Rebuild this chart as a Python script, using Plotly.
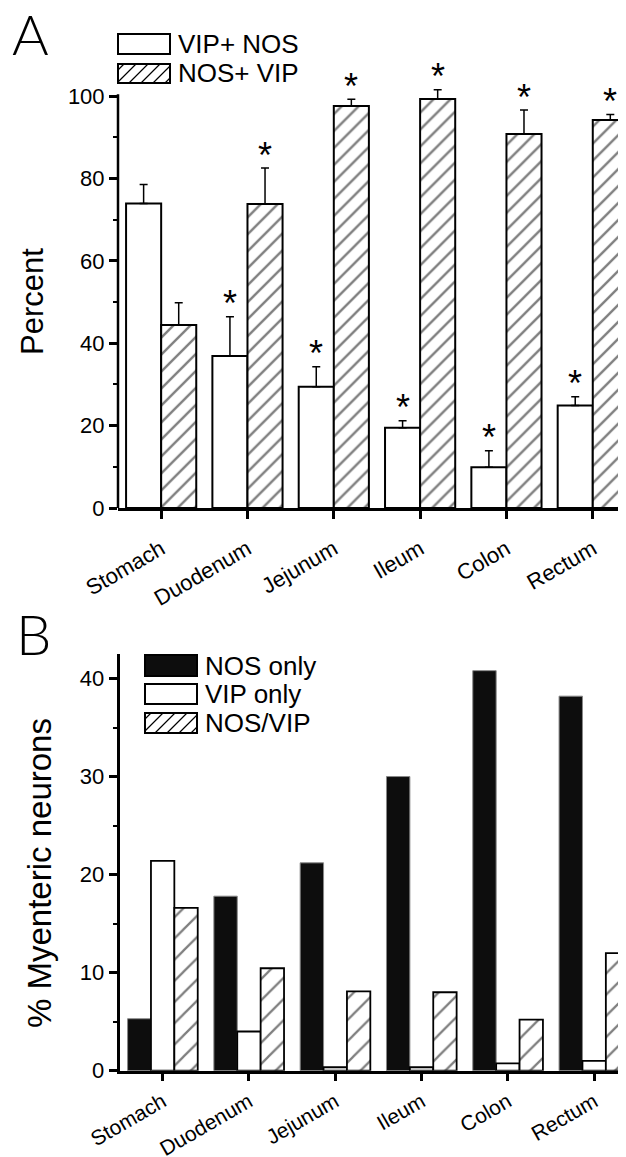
import plotly.graph_objects as go

# The page body has an 8px margin, so the figure is drawn 8px in from the window edge.
OFF = 8
W, H = 626 - OFF, 1157 - OFF

regions = ["Stomach", "Duodenum", "Jejunum", "Ileum", "Colon", "Rectum"]

# Panel A: percent co-expression (mean, upper error)
vip_nos = [73.9, 36.9, 29.4, 19.5, 9.9, 24.9]
vip_nos_err = [4.6, 9.5, 4.9, 1.7, 4.0, 2.1]
nos_vip = [44.4, 73.8, 97.6, 99.3, 90.8, 94.2]
nos_vip_err = [5.4, 8.7, 1.6, 2.2, 5.8, 1.3]
vip_nos_sig = [False, True, True, True, True, True]
nos_vip_sig = [False, True, True, True, True, True]

# Panel B: % myenteric neurons
nos_only = [5.3, 17.8, 21.2, 30.0, 40.8, 38.2]
vip_only = [21.4, 4.0, 0.35, 0.35, 0.75, 1.0]
nos_and_vip = [16.6, 10.45, 8.1, 8.0, 5.2, 12.0]

a_ticks = [0, 20, 40, 60, 80, 100]
a_minor = [10, 30, 50, 70, 90]
b_ticks = [0, 10, 20, 30, 40]
b_minor = [5, 15, 25, 35]

FONT = "Liberation Sans, Arial, sans-serif"


def px(x):
    return (x - OFF) / W


def py(y):
    return 1 - (y - OFF) / H


fig = go.Figure()

no_minus = [0] * len(regions)
fig.add_trace(go.Bar(
    x=regions, y=vip_nos, name="VIP+ NOS", xaxis="x", yaxis="y",
    marker=dict(color="white", line=dict(color="black", width=2)),
    error_y=dict(type="data", array=vip_nos_err, arrayminus=no_minus, symmetric=False,
                 color="black", thickness=1.5, width=4),
    showlegend=False))
fig.add_trace(go.Bar(
    x=regions, y=nos_vip, name="NOS+ VIP", xaxis="x", yaxis="y",
    marker=dict(color="white", line=dict(color="black", width=2),
                pattern=dict(shape="/", fgcolor="black", bgcolor="white", size=12, solidity=0.2)),
    error_y=dict(type="data", array=nos_vip_err, arrayminus=no_minus, symmetric=False,
                 color="black", thickness=1.5, width=4),
    showlegend=False))

fig.add_trace(go.Bar(
    x=regions, y=nos_only, name="NOS only", xaxis="x2", yaxis="y2",
    marker=dict(color="#0d0d0d", line=dict(color="#888888", width=1)), showlegend=False))
fig.add_trace(go.Bar(
    x=regions, y=vip_only, name="VIP only", xaxis="x2", yaxis="y2",
    marker=dict(color="white", line=dict(color="black", width=1.8)), showlegend=False))
fig.add_trace(go.Bar(
    x=regions, y=nos_and_vip, name="NOS/VIP", xaxis="x2", yaxis="y2",
    marker=dict(color="white", line=dict(color="black", width=1.8),
                pattern=dict(shape="/", fgcolor="black", bgcolor="white", size=15, solidity=0.15)),
    showlegend=False))

bargap = 0.187
half = (1 - bargap) / 4  # center offset of each of two grouped bars

annotations = []
star_font = dict(size=36, family=FONT, color="black")
for i, s in enumerate(vip_nos_sig):
    if s:
        annotations.append(dict(x=i - half, y=vip_nos[i] + vip_nos_err[i], xref="x", yref="y",
                                text="*", showarrow=False, xanchor="center", yanchor="middle",
                                yshift=13, font=star_font))
for i, s in enumerate(nos_vip_sig):
    if s:
        annotations.append(dict(x=i + half, y=nos_vip[i] + nos_vip_err[i], xref="x", yref="y",
                                text="*", showarrow=False, xanchor="center", yanchor="middle",
                                yshift=13, font=star_font))

# panel letters and axis titles
annotations += [
    dict(x=px(30), y=py(33), xref="paper", yref="paper", text="A", showarrow=False,
         xanchor="center", yanchor="middle", height=48, valign="middle",
         font=dict(size=56, family="Lato, " + FONT, color="black", weight=300)),
    dict(x=px(33), y=py(633), xref="paper", yref="paper", text="B", showarrow=False,
         xanchor="center", yanchor="middle", height=48, valign="middle",
         font=dict(size=56, family="Lato, " + FONT, color="black", weight=300)),
    dict(x=px(32), y=py(301), xref="paper", yref="paper", text="Percent", textangle=-90,
         xanchor="center", yanchor="middle",
         showarrow=False, font=dict(size=31, family=FONT, color="black")),
    dict(x=px(40), y=py(873), xref="paper", yref="paper", text="% Myenteric neurons",
         textangle=-90, xanchor="center", yanchor="middle",
         showarrow=False, font=dict(size=33, family=FONT, color="black")),
]

shapes = []


def box(x0, y0, x1, y1, fill):
    shapes.append(dict(type="rect", xref="paper", yref="paper", x0=px(x0), x1=px(x1),
                       y0=py(y1), y1=py(y0), fillcolor=fill,
                       line=dict(color="black", width=2)))


def hatch(x0, y0, x1, y1, d):
    parts = []
    k = x0 + y0 + d / 2
    while k < x1 + y1:
        xa = max(x0, k - y1)
        xb = min(x1, k - y0)
        if xb > xa:
            parts.append("M%.5f,%.5f L%.5f,%.5f" % (px(xa), py(k - xa), px(xb), py(k - xb)))
        k += d
    shapes.append(dict(type="path", xref="paper", yref="paper", path=" ".join(parts),
                       line=dict(color="black", width=1.2)))


def legend_item(x0, y0, x1, y1, kind, label):
    if kind == "black":
        box(x0, y0, x1, y1, "#0d0d0d")
    else:
        box(x0, y0, x1, y1, "white")
        if kind == "hatch":
            hatch(x0, y0, x1, y1, 12)
    annotations.append(dict(x=px(x1 + 6), y=py((y0 + y1) / 2), xref="paper", yref="paper",
                            text=label, showarrow=False, xanchor="left", yanchor="middle",
                            font=dict(size=26, family=FONT, color="black")))


legend_item(118, 34, 170, 54, "white", "VIP+ NOS")
legend_item(118, 64, 170, 83, "hatch", "NOS+ VIP")
legend_item(145, 655, 197, 676, "black", "NOS only")
legend_item(145, 684, 197, 704, "white", "VIP only")
legend_item(145, 713, 197, 733, "hatch", "NOS/VIP")

# panel A y-axis line (only up to 100)
shapes.append(dict(type="line", xref="x domain", yref="y", x0=0, x1=0, y0=0, y1=100.4,
                   line=dict(color="black", width=2.5)))

common_x = dict(showline=True, linecolor="black", linewidth=2.5, ticks="outside", ticklen=8,
                tickwidth=2.5, tickcolor="black", tickangle=-30, showgrid=False, zeroline=False,
                automargin=False, type="category")
common_y = dict(ticks="outside", ticklen=8, tickwidth=2.5, tickcolor="black", showgrid=False,
                zeroline=False, tickfont=dict(size=22, family=FONT, color="black"),
                automargin=False)

fig.update_layout(
    width=W, height=H,
    margin=dict(l=0, r=0, t=0, b=0),
    paper_bgcolor="white", plot_bgcolor="white",
    barmode="group", bargap=bargap, bargroupgap=0,
    showlegend=False,
    xaxis=dict(domain=[px(118), 1], range=[-0.5, 5.385], anchor="y", ticklabelstandoff=9,
               tickfont=dict(size=22, family=FONT, color="black"), **common_x),
    yaxis=dict(domain=[py(508), py(75.4)], range=[0, 105], anchor="x", showline=False,
               tickvals=a_ticks,
               minor=dict(tickvals=a_minor, ticks="outside", ticklen=4, tickwidth=2,
                          tickcolor="black"),
               **common_y),
    xaxis2=dict(domain=[px(119.5), 1], range=[-0.5, 5.369], anchor="y2", ticklabelstandoff=0,
                tickfont=dict(size=21, family=FONT, color="black"), **common_x),
    yaxis2=dict(domain=[py(1070.7), py(654)], range=[0, 42.5], anchor="x2", showline=True,
                linecolor="black", linewidth=2.5, tickvals=b_ticks,
                minor=dict(tickvals=b_minor, ticks="outside", ticklen=4, tickwidth=2,
                           tickcolor="black"),
                **common_y),
    annotations=annotations,
    shapes=shapes,
)

fig.write_html("out.html")
